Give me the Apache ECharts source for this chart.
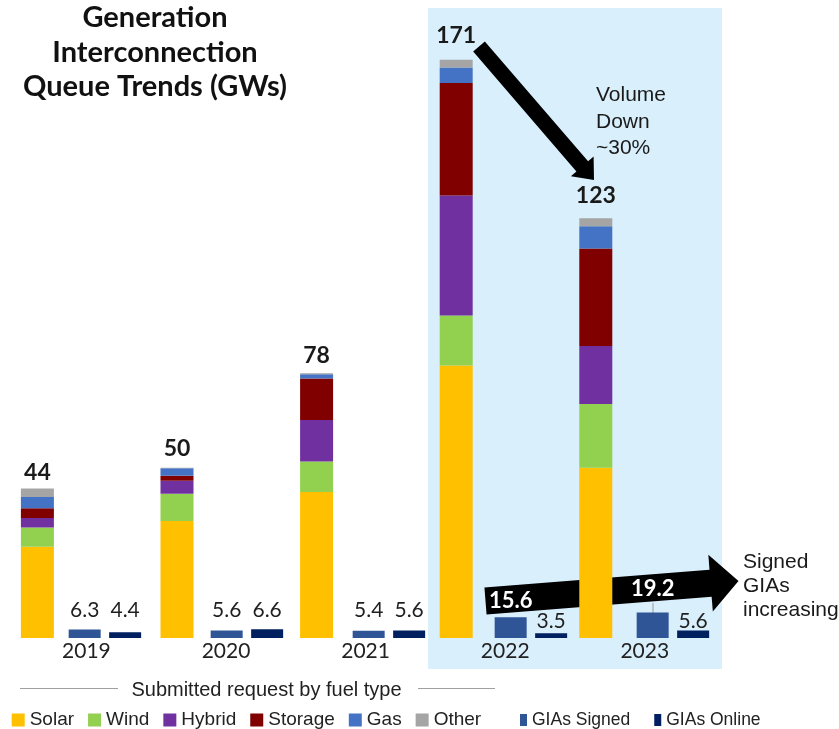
<!DOCTYPE html>
<html>
<head>
<meta charset="utf-8">
<script src="https://cdn.jsdelivr.net/npm/echarts@6/dist/echarts.min.js"></script>
<style>
html,body{margin:0;padding:0;background:#fff;}
#chart{width:839px;height:729px;}
</style>
</head>
<body>
<div id="chart"></div>
<script>
// ---- data ----
const years = ['2019', '2020', '2021', '2022', '2023'];
const solar   = [27.0, 34.6, 43.2, 80.6, 50.4];
const wind    = [5.7, 8.1, 9.0, 14.8, 18.8];
const hybrid  = [2.8, 3.8, 12.3, 35.5, 17.2];
const storage = [2.9, 1.5, 12.3, 33.3, 28.8];
const gas     = [3.3, 2.2, 1.2, 4.6, 6.6];
const other   = [2.5, 0.2, 0.3, 2.3, 2.4];
const totals  = [44, 50, 78, 171, 123];
const giaSigned = [6.3, 5.6, 5.4, 15.6, 19.2];
const giaOnline = [4.4, 6.6, 5.6, 3.5, 5.6];

// ---- label placement (styling, not data) ----
const totalLabelDist = [5, 8, 6, 13, 11];
const signedLabelDy = [-17, -17, -17, -26.5, -38.2];
const signedLabelOnArrow = [false, false, false, true, true];
const onlineLabelDy = [-17, -17, -17, -5.8, -5.8];

const FONT = 'Lato, "Noto Sans", sans-serif';
const SANS = '"Liberation Sans", Arial, sans-serif';

const fuel = [
  {name: 'Solar', data: solar, color: '#FFC000'},
  {name: 'Wind', data: wind, color: '#92D050'},
  {name: 'Hybrid', data: hybrid, color: '#7030A0'},
  {name: 'Storage', data: storage, color: '#800000'},
  {name: 'Gas', data: gas, color: '#4472C4'},
  {name: 'Other', data: other, color: '#A5A5A5'}
];

const series = fuel.map((f, idx) => {
  const s = {
    name: f.name, type: 'bar', stack: 'queue',
    xAxisIndex: 0, yAxisIndex: 0,
    barWidth: 33, barGap: '197%',
    itemStyle: {color: f.color},
    data: f.data.slice(),
    z: 3
  };
  if (idx === fuel.length - 1) {
    s.data = f.data.map((v, i) => ({
      value: v,
      label: {
        show: true, position: 'top', distance: totalLabelDist[i],
        formatter: String(totals[i]),
        fontFamily: FONT, fontSize: 23, fontWeight: 'bold', color: '#1a1a1a'
      }
    }));
  }
  return s;
});
// spacer column that shifts the stacked bar left of the year label
series.push({
  name: '_pad', type: 'bar', xAxisIndex: 0, yAxisIndex: 0,
  barWidth: 33, barGap: '197%', data: [], silent: true
});
series.push({
  name: 'GIAs Signed', type: 'bar', xAxisIndex: 1, yAxisIndex: 1,
  barWidth: 32, barGap: '26.5%',
  itemStyle: {color: '#2F5597'}, z: 3,
  data: giaSigned.map((v, i) => ({
    value: v,
    label: {
      show: true, position: 'insideBottom', distance: 0,
      offset: [0, signedLabelDy[i]],
      formatter: v.toFixed(1),
      fontFamily: FONT,
      fontSize: signedLabelOnArrow[i] ? 22 : 21,
      fontWeight: signedLabelOnArrow[i] ? 'bold' : 'normal',
      color: signedLabelOnArrow[i] ? '#ffffff' : '#1f1f1f'
    }
  }))
});
series.push({
  name: 'GIAs Online', type: 'bar', xAxisIndex: 1, yAxisIndex: 1,
  barWidth: 32, barGap: '26.5%',
  itemStyle: {color: '#002060'}, z: 3,
  data: giaOnline.map((v, i) => ({
    value: v,
    label: {
      show: true, position: 'insideBottom', distance: 0,
      offset: [0, onlineLabelDy[i]],
      formatter: v.toFixed(1),
      fontFamily: FONT, fontSize: 21, color: '#1f1f1f'
    }
  }))
});

function arrowPoints(tail, tip, shaftHalf, headHalf, headLen) {
  const dx = tip[0] - tail[0], dy = tip[1] - tail[1];
  const L = Math.sqrt(dx * dx + dy * dy);
  const ux = dx / L, uy = dy / L;
  const nx = -uy, ny = ux;
  const bx = tip[0] - ux * headLen, by = tip[1] - uy * headLen;
  return [
    [tail[0] + nx * shaftHalf, tail[1] + ny * shaftHalf],
    [bx + nx * shaftHalf, by + ny * shaftHalf],
    [bx + nx * headHalf, by + ny * headHalf],
    [tip[0], tip[1]],
    [bx - nx * headHalf, by - ny * headHalf],
    [bx - nx * shaftHalf, by - ny * shaftHalf],
    [tail[0] - nx * shaftHalf, tail[1] - ny * shaftHalf]
  ];
}

const chart = echarts.init(document.getElementById('chart'), null, {renderer: 'canvas'});
chart.setOption({
  backgroundColor: '#ffffff',
  animation: false,
  grid: [
    {left: 16.6, right: 124.4, top: 29.6, bottom: 91},
    {left: 33.9, right: 95.1, top: 29.6, bottom: 91}
  ],
  xAxis: [
    {type: 'category', gridIndex: 0, data: years,
      axisLine: {show: false}, axisTick: {show: false},
      axisLabel: {fontFamily: FONT, fontSize: 21, color: '#222', margin: 3}},
    {type: 'category', gridIndex: 1, data: years, show: false}
  ],
  yAxis: [
    {type: 'value', gridIndex: 0, min: 0, max: 180, show: false, splitLine: {show: false}},
    {type: 'value', gridIndex: 1, min: 0, max: 457, show: false, splitLine: {show: false}}
  ],
  legend: [
    {
      data: ['Solar', 'Wind', 'Hybrid', 'Storage', 'Gas', 'Other'],
      left: 11.7, top: 710.5, padding: 0,
      itemWidth: 13, itemHeight: 13, itemGap: 14,
      icon: 'rect',
      textStyle: {fontFamily: SANS, fontSize: 19, color: '#222'}
    },
    {
      data: ['GIAs Signed', 'GIAs Online'],
      left: 520, top: 711, padding: 0,
      itemWidth: 7, itemHeight: 12, itemGap: 24,
      icon: 'rect',
      textStyle: {fontFamily: SANS, fontSize: 17.5, color: '#222'}
    }
  ],
  graphic: [
    {type: 'rect', z: -10, silent: true,
      shape: {x: 428, y: 8, width: 294, height: 661},
      style: {fill: '#D9EFFC'}},
    {type: 'polygon', z: 1, silent: true,
      shape: {points: arrowPoints([479, 46.5], [594, 180], 7.7, 15, 18)},
      style: {fill: '#000'}},
    {type: 'polygon', z: 1, silent: true,
      shape: {points: arrowPoints([485.5, 601], [738.5, 581], 13.5, 28.5, 28)},
      style: {fill: '#000'}},
    {type: 'line', z: 1, silent: true,
      shape: {x1: 653, y1: 603, x2: 653, y2: 613},
      style: {stroke: '#9a9a9a', lineWidth: 1}},
    {type: 'text', silent: true, x: 155, y: 0.5,
      style: {text: 'Generation\nInterconnection\nQueue Trends (GWs)', align: 'center', verticalAlign: 'top',
        font: 'bold 29px ' + FONT, lineHeight: 34.5, fill: '#111'}},
    {type: 'text', silent: true, x: 596, y: 82.3,
      style: {text: 'Volume\nDown\n~30%', align: 'left', verticalAlign: 'top',
        font: '21px ' + SANS, lineHeight: 26.5, fill: '#1a1a1a'}},
    {type: 'text', silent: true, x: 743, y: 549.7,
      style: {text: 'Signed\nGIAs\nincreasing', align: 'left', verticalAlign: 'top',
        font: '21px ' + SANS, lineHeight: 24.2, fill: '#1a1a1a'}},
    {type: 'line', silent: true, shape: {x1: 20, y1: 688.5, x2: 118, y2: 688.5},
      style: {stroke: '#a0a0a0', lineWidth: 1}},
    {type: 'line', silent: true, shape: {x1: 418, y1: 688.5, x2: 495, y2: 688.5},
      style: {stroke: '#a0a0a0', lineWidth: 1}},
    {type: 'text', silent: true, x: 266.5, y: 690,
      style: {text: 'Submitted request by fuel type', align: 'center', verticalAlign: 'middle',
        font: '20px ' + SANS, fill: '#222'}}
  ],
  series: series
});
</script>
</body>
</html>
